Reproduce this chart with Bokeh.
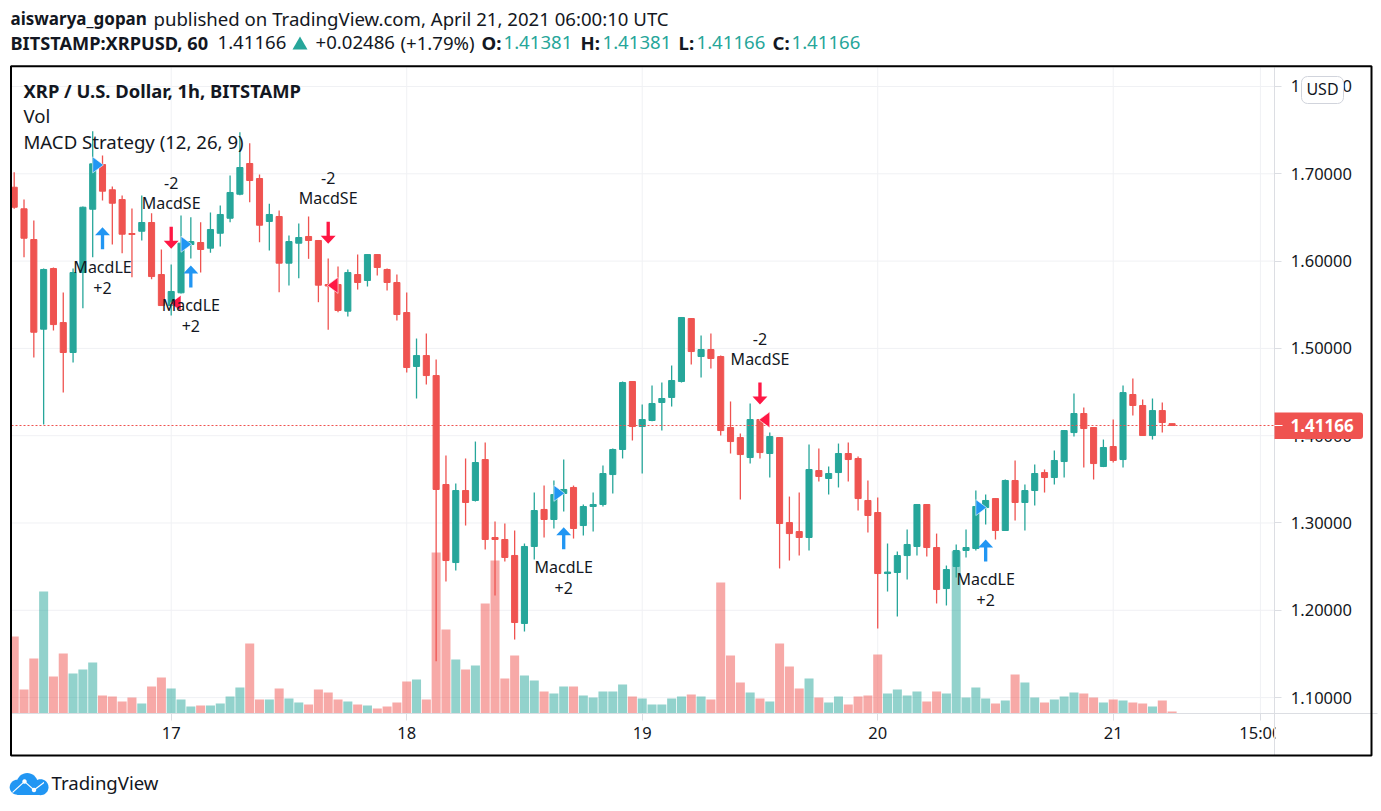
import math
from bokeh.embed import file_html
from bokeh.models import BoxAnnotation, ColumnDataSource, FixedTicker, Label, NumeralTickFormatter, PolyAnnotation, Range1d
from bokeh.plotting import figure
from bokeh.resources import INLINE

# ---------- data (hourly bars from April 16 08:00 UTC) ----------
open_ = [1.6846,1.6599,1.6247,1.5220,1.5915,1.5296,1.4953,1.5869,1.6594,1.7106,1.6817,1.6705,1.6316,1.6342,1.6442,1.5846,
 1.5491,1.5637,1.6190,1.6213,1.6148,1.6319,1.6491,1.6766,1.7118,1.6946,1.6454,1.6511,1.5976,1.6205,1.6282,1.6236,
 1.5732,1.5732,1.5426,1.5846,1.5778,1.6075,1.5904,1.5755,1.5411,1.4793,1.4918,1.4689,1.3441,1.2547,1.3372,1.3258,
 1.3727,1.2834,1.2811,1.2628,1.1849,1.2731,1.3155,1.3040,1.3338,1.3407,1.2971,1.3189,1.3212,1.3555,1.3842,1.4621,
 1.4105,1.4174,1.4380,1.4438,1.4621,1.5342,1.4907,1.4987,1.4907,1.4094,1.3979,1.3750,1.4185,1.3796,1.3979,1.3005,
 1.2902,1.2834,1.3601,1.3510,1.3578,1.3796,1.3739,1.3258,1.3120,1.2421,1.2433,1.2627,1.2731,1.3212,1.2719,1.2249,
 1.2502,1.2685,1.2708,1.3177,1.3280,1.2914,1.3487,1.3235,1.3372,1.3578,1.3521,1.3704,1.4036,1.4254,1.4094,1.3647,
 1.3876,1.3727,1.4472,1.4346,1.4002,1.4288,1.41381]
high = [1.7018,1.6705,1.6465,1.5915,1.5927,1.5640,1.5915,1.6625,1.7488,1.7210,1.6854,1.6751,1.6602,1.6751,1.6549,1.6133,
 1.5961,1.6522,1.6503,1.6445,1.6556,1.6637,1.6980,1.7476,1.7350,1.6992,1.6656,1.6579,1.6293,1.6431,1.6511,1.6240,
 1.6030,1.5938,1.5904,1.6075,1.6080,1.6080,1.5915,1.5846,1.5640,1.5113,1.5170,1.4873,1.3773,1.3452,1.3739,1.3933,
 1.3922,1.3017,1.2994,1.2914,1.2765,1.3349,1.3429,1.3487,1.3727,1.3429,1.3212,1.3349,1.3658,1.3853,1.4621,1.4625,
 1.4357,1.4575,1.4609,1.4804,1.5358,1.5346,1.5147,1.5170,1.4918,1.4392,1.4025,1.4369,1.4190,1.4036,1.3985,1.3303,
 1.3349,1.3899,1.3853,1.3647,1.3910,1.3922,1.3762,1.3487,1.3292,1.2765,1.2673,1.2925,1.3215,1.3215,1.2879,1.2513,
 1.2753,1.2925,1.3372,1.3326,1.3285,1.3498,1.3716,1.3441,1.3670,1.3613,1.3830,1.4063,1.4483,1.4323,1.4098,1.3956,
 1.4185,1.4575,1.4655,1.4414,1.4426,1.4380,1.41381]
low = [1.6599,1.6044,1.4896,1.4128,1.5205,1.4494,1.4838,1.5460,1.6044,1.6694,1.6190,1.6090,1.5816,1.6236,1.5793,1.5491,
 1.5377,1.5630,1.6030,1.5869,1.6095,1.6167,1.6445,1.6755,1.6675,1.6216,1.6121,1.5644,1.5720,1.5804,1.6026,1.5529,
 1.5213,1.5414,1.5365,1.5674,1.5709,1.5835,1.5663,1.5319,1.4724,1.4426,1.4586,1.1417,1.2330,1.2456,1.2971,1.3246,
 1.2696,1.2169,1.2559,1.1665,1.1757,1.2582,1.2834,1.2937,1.3131,1.2822,1.2857,1.2902,1.3189,1.3338,1.3739,1.3945,
 1.3567,1.4165,1.4059,1.4334,1.4609,1.4815,1.4666,1.4770,1.4002,1.3796,1.3269,1.3681,1.3739,1.3521,1.2479,1.2570,
 1.2627,1.2685,1.3475,1.3326,1.3407,1.3475,1.3143,1.2891,1.1791,1.2215,1.1929,1.2353,1.2627,1.2616,1.2078,1.2055,
 1.2376,1.2605,1.2685,1.2983,1.2811,1.2910,1.3028,1.2914,1.3200,1.3349,1.3441,1.3521,1.3991,1.3636,1.3498,1.3640,
 1.3693,1.3636,1.4231,1.3998,1.3956,1.4036,1.41166]
close = [1.6617,1.6262,1.5185,1.5904,1.5273,1.4953,1.5869,1.6617,1.7114,1.6801,1.6663,1.6308,1.6305,1.6442,1.5823,1.5491,
 1.5652,1.6205,1.6224,1.6133,1.6362,1.6534,1.6786,1.7072,1.6923,1.6411,1.6534,1.5976,1.6224,1.6270,1.6236,1.5724,
 1.5715,1.5434,1.5869,1.5755,1.6075,1.5927,1.5755,1.5388,1.4781,1.4918,1.4689,1.3384,1.2570,1.3372,1.3235,1.3693,
 1.2811,1.2811,1.2605,1.1860,1.2731,1.3143,1.3040,1.3326,1.3384,1.2937,1.3189,1.3212,1.3567,1.3842,1.4609,1.4105,
 1.4185,1.4369,1.4426,1.4632,1.5354,1.4964,1.4987,1.4884,1.4059,1.3933,1.3784,1.4185,1.3807,1.3991,1.2994,1.2879,
 1.2834,1.3613,1.3533,1.3567,1.3796,1.3727,1.3280,1.3086,1.2421,1.2438,1.2627,1.2754,1.3212,1.2719,1.2238,1.2467,
 1.2685,1.2719,1.3189,1.3258,1.2914,1.3487,1.3235,1.3372,1.3567,1.3521,1.3716,1.4059,1.4254,1.4082,1.3681,1.3865,
 1.3716,1.4494,1.4346,1.4002,1.4288,1.4151,1.41166]
volume = [232,73,166,367,112,181,121,133,154,55,52,37,49,31,82,109,76,43,22,25,25,31,52,79,211,43,43,76,46,34,28,73,
 64,43,37,28,25,16,22,34,97,103,43,484,253,163,133,145,331,460,106,175,115,100,67,61,82,82,55,49,67,67,88,52,
 46,28,28,46,52,58,52,43,394,175,94,64,46,37,211,142,76,106,49,34,52,28,52,55,178,61,73,55,67,37,67,61,
 488,49,79,46,31,40,118,94,49,34,43,52,64,61,49,34,43,40,34,31,22,40,7]

price_ticks = [1.1, 1.2, 1.3, 1.4, 1.5, 1.6, 1.7, 1.8]
time_ticks = [16, 40, 64, 88, 112, 127]
time_labels = ["17", "18", "19", "20", "21", "15:00"]

long_bars = [9, 18, 56, 99]
long_tip = [1.6388, 1.5949, 1.2952, 1.2811]
long_fill = [1.7102, 1.6193, 1.3340, 1.3177]
short_bars = [16, 32, 76]
short_tip = [1.6141, 1.6198, 1.4357]
short_fill = [1.5518, 1.5722, 1.4182]
last_price = close[-1]

# ---------- style ----------
UP, DOWN = "#26a69a", "#ef5350"
BLUE, RED = "#2196f3", "#ff1744"
INK = "#131722"
FONT = "Noto Sans"
GRID = "#f0f1f4"
AXIS = "#dcdee3"

W, H = 1381, 811
# pane limits in data units
PANE_L, PANE_R, PANE_B, PANE_T, AXIS_END = -0.275, 128.47, 1.0818, 1.8218, 1.0335

p = figure(width=W, height=H, output_backend="svg", toolbar_location=None, tools="",
           x_range=Range1d(-1.396, 139.34), y_range=Range1d(0.96953, 1.89851),
           x_axis_location="below", y_axis_location="right",
           min_border=0)
p.outline_line_color = None
p.background_fill_color = "white"
p.extra_y_ranges = {"vol": Range1d(-293, 2140)}
p.grid.visible = False

# grid (stays inside the pane)
p.segment(x0=time_ticks, x1=time_ticks, y0=[PANE_B] * 6, y1=[PANE_T] * 6, color=GRID, line_width=1, level="underlay")
p.segment(x0=[PANE_L] * 8, x1=[PANE_R] * 8, y0=price_ticks, y1=price_ticks, color=GRID, line_width=1, level="underlay")

p.xaxis.ticker = FixedTicker(ticks=time_ticks)
p.xaxis.major_label_overrides = dict(zip(time_ticks, time_labels))
p.xaxis.fixed_location = PANE_B
p.xaxis.bounds = (PANE_L, 138.9)
p.yaxis.ticker = FixedTicker(ticks=price_ticks)
p.yaxis.formatter = NumeralTickFormatter(format="0.00000")
p.yaxis.fixed_location = PANE_R
p.yaxis.bounds = (AXIS_END, PANE_T)
for ax in (p.xaxis[0], p.yaxis[0]):
    ax.axis_line_color = AXIS
    ax.major_tick_line_color = AXIS
    ax.minor_tick_line_color = None
    ax.major_tick_in = 0
    ax.major_tick_out = 7
    ax.major_label_text_font = FONT
    ax.major_label_text_font_size = "16.5px"
    ax.major_label_text_color = INK
p.xaxis.major_label_standoff = 1
p.yaxis.major_label_standoff = 9

bars = list(range(len(close)))
colors = [UP if c >= o else DOWN for o, c in zip(open_, close)]
src = ColumnDataSource(dict(x=bars, o=open_, h=high, l=low, c=close, v=volume, color=colors,
                            top=[max(a, b) for a, b in zip(open_, close)],
                            bottom=[min(a, b) for a, b in zip(open_, close)]))
p.vbar(x="x", top="v", bottom=0, width=0.92, source=src, y_range_name="vol",
       fill_color="color", fill_alpha=0.5, line_color=None)
p.segment(x0="x", y0="h", x1="x", y1="l", color="color", line_width=1.3, source=src)
p.vbar(x="x", top="top", bottom="bottom", width=0.62, source=src, fill_color="color", line_color="color")

last_line = p.segment(x0=[PANE_L], x1=[PANE_R], y0=[last_price], y1=[last_price], color=DOWN, line_width=1.2)
last_line.glyph.line_dash = [2, 2]

# ---------- strategy markers ----------
HEAD_W, SHAFT_W, HEAD_H, LEN = 0.76, 0.17, 0.0092, 0.0252
def arrow(x, tip, d):
    return ([x, x + HEAD_W, x + SHAFT_W, x + SHAFT_W, x - SHAFT_W, x - SHAFT_W, x - HEAD_W],
            [tip, tip + d * HEAD_H, tip + d * HEAD_H, tip + d * LEN, tip + d * LEN, tip + d * HEAD_H, tip + d * HEAD_H])
TRI_H = 0.0092
la = [arrow(x, t, -1) for x, t in zip(long_bars, long_tip)]
sa = [arrow(x, t, 1) for x, t in zip(short_bars, short_tip)]
p.patches([a[0] for a in la], [a[1] for a in la], fill_color=BLUE, line_color=None)
p.patches([a[0] for a in sa], [a[1] for a in sa], fill_color=RED, line_color=None)
p.patches([[b - 1, b + 0.1, b - 1] for b in long_bars], [[y + TRI_H, y, y - TRI_H] for y in long_fill],
          fill_color=BLUE, line_color="white", line_width=0.6)
p.patches([[b + 1, b - 0.1, b + 1] for b in short_bars], [[y + TRI_H, y, y - TRI_H] for y in short_fill],
          fill_color=RED, line_color="white", line_width=0.6)

def tag(x, y, off, text):
    p.add_layout(Label(x=x, y=y, y_offset=off, text=text, text_align="center", text_baseline="middle",
                       text_font=FONT, text_font_size="16px", text_color=INK))
for b, t in zip(long_bars, long_tip):
    tag(b, t, -39.5, "MacdLE")
    tag(b, t, -60.5, "+2")
for b, t in zip(short_bars, short_tip):
    tag(b, t, 45.5, "MacdSE")
    tag(b, t, 66, "-2")

# ---------- page furniture (canvas px) ----------
def txt(x, y, text, size=18.6, bold=False, color=INK, align="left", level="annotation"):
    p.add_layout(Label(x=x, y=y - 1, x_units="canvas", y_units="canvas", text=text, text_font=FONT,
                       text_font_size=f"{size}px", text_font_style="bold" if bold else "normal",
                       text_color=color, text_align=align, text_baseline="middle", level=level))
def box(l, t, r, b, color="white", line=None, radius=0, lw=1, alpha=1.0, level="overlay"):
    p.add_layout(BoxAnnotation(left=l, right=r, top=t, bottom=b,
                               left_units="canvas", right_units="canvas", top_units="canvas", bottom_units="canvas",
                               fill_color=color, fill_alpha=alpha, line_color=line, line_alpha=1.0, line_width=lw,
                               border_radius=radius, level=level, editable=False))
def poly(xs, ys, color):
    p.add_layout(PolyAnnotation(xs=list(xs), ys=list(ys), xs_units="canvas", ys_units="canvas",
                                fill_color=color, fill_alpha=1, line_color=None, level="overlay"))

# clip the "15:00" tick label at the price axis and keep marks inside the pane
box(1275, 716, 1350, 752)
box(0, 60, 10, 760)

# header
txt(10, 19, "aiswarya_gopan", size=17.0, bold=True)
txt(153, 19, "published on TradingView.com, April 21, 2021 06:00:10 UTC")
txt(10, 43, "BITSTAMP:XRPUSD, 60", size=18.2, bold=True)
txt(217, 43, "1.41166")
poly([292, 307, 299.5], [49, 49, 36], UP)
txt(315, 43, "+0.02486")
txt(400, 43, "(+1.79%)")
for lx_, lbl, vx in [(481, "O:", 503), (580, "H:", 602), (678, "L:", 696), (772, "C:", 791)]:
    txt(lx_, 43, lbl, bold=True)
    txt(vx, 43, {"O:": "1.41381", "H:": "1.41381", "L:": "1.41166", "C:": "1.41166"}[lbl], color=UP)

# pane legends
txt(23, 91, "XRP / U.S. Dollar, 1h, BITSTAMP", size=18.4, bold=True)
txt(23, 116, "Vol")
txt(23, 142, "MACD Strategy (12, 26, 9)")

# last price tag
box(1274, 412, 1362.5, 438.5, color=DOWN, radius=(0, 3, 3, 0))
box(1274, 424.5, 1282, 425.5, color="white")
txt(1290, 426, "1.41166", size=17, bold=True, color="white", level="overlay")

# USD button
box(1301, 76, 1343, 103, color="white", line="#d1d4dc", radius=6)
txt(1322, 89.5, "USD", size=16, align="center", level="overlay")

# frame
box(10.5, 65.7, 1371, 755, color="white", alpha=0, line="black", lw=2)

# logo
def circle(cx, cy, r):
    return ([cx + r * math.cos(a * math.pi / 18) for a in range(36)],
            [cy + r * math.sin(a * math.pi / 18) for a in range(36)])
for cx, cy, r in [(16.7, 786.7, 7.5), (26.7, 783.3, 10.7), (40, 786.7, 8)]:
    poly(*circle(cx, cy, r), "#2196f3")
poly([16.7, 40, 40, 16.7], [784, 784, 794.5, 794.5], "#2196f3")
for (x0, y0), (x1, y1) in [((12, 792), (24, 781)), ((24, 781), (33.5, 789.5)), ((33.5, 789.5), (43.5, 782))]:
    poly([x0, x1, x1, x0], [y0 - 0.7, y1 - 0.7, y1 + 0.7, y0 + 0.7], "white")
poly(*circle(24, 781, 2.2), "white")
poly(*circle(33.5, 789.5, 2.2), "white")
txt(51, 783, "TradingView", size=18.6)

open("out.html", "w").write(file_html(p, INLINE))
